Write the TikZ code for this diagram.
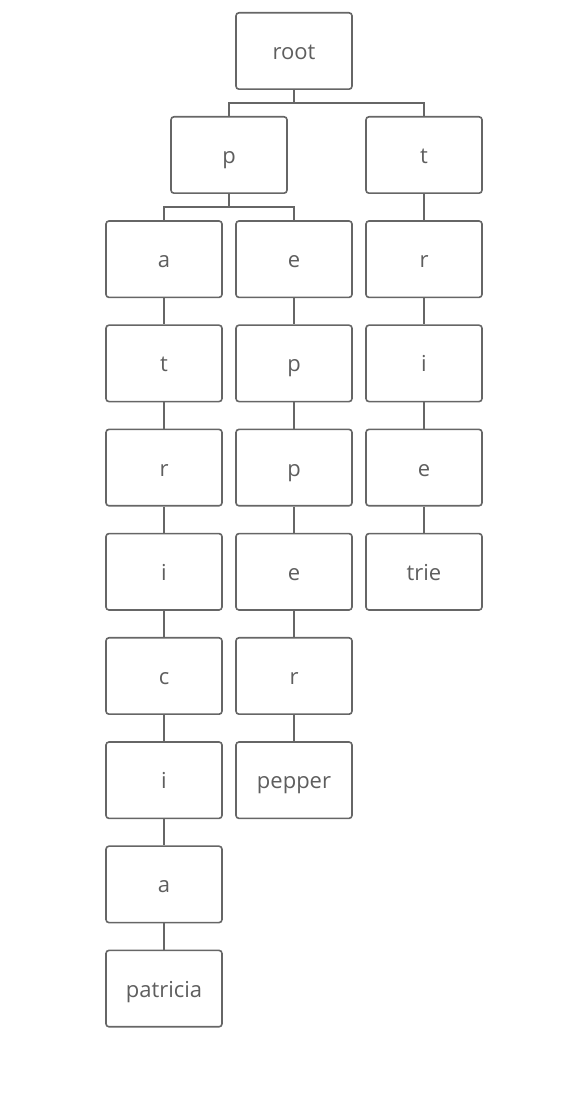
\documentclass[tikz,border=0pt]{standalone}
\usepackage{fontspec}
\setmainfont{Open Sans}
\usetikzlibrary{positioning}
\definecolor{boxline}{HTML}{666666}
\definecolor{boxtext}{HTML}{5E5E5E}
\tikzset{
  trienode/.style={draw=boxline, line width=1.6pt, rounded corners=3pt,
    minimum width=116pt, minimum height=76.4pt, inner sep=0pt,
    text height=22pt, text depth=5pt,
    text=boxtext, font=\fontsize{22}{26}\selectfont},
  trieedge/.style={draw=boxline, line width=1.6pt},
}
\begin{document}
\begin{tikzpicture}[x=1pt,y=1pt, node distance=26.2pt and 12pt]
  \useasboundingbox (0,0) rectangle (573,1094);

  % top of the trie
  \node[trienode] (root) at (294,1043) {root};
  \node[trienode] (p) at (229,939) {p};
  \node[trienode] (t) at (424,939) {t};
  \draw[trieedge] (root.south) -- ++(0,-13pt) -| (p.north);
  \draw[trieedge] (root.south) -- ++(0,-13pt) -| (t.north);

  % branch under p
  \node[trienode, below=of p, xshift=-65pt] (pa1) {a};
  \node[trienode, below=of p, xshift=65pt] (pe1) {e};
  \draw[trieedge] (p.south) -- ++(0,-13pt) -| (pa1.north);
  \draw[trieedge] (p.south) -- ++(0,-13pt) -| (pe1.north);

  % patricia
  \foreach \lbl [count=\i from 2] in {t,r,i,c,i,a,patricia} {
    \pgfmathtruncatemacro\prev{\i-1}
    \node[trienode, below=of pa\prev] (pa\i) {\lbl};
    \draw[trieedge] (pa\prev) -- (pa\i);
  }

  % pepper
  \foreach \lbl [count=\i from 2] in {p,p,e,r,pepper} {
    \pgfmathtruncatemacro\prev{\i-1}
    \node[trienode, below=of pe\prev] (pe\i) {\lbl};
    \draw[trieedge] (pe\prev) -- (pe\i);
  }

  % trie
  \node[trienode, below=of t] (tr1) {r};
  \draw[trieedge] (t) -- (tr1);
  \foreach \lbl [count=\i from 2] in {i,e,trie} {
    \pgfmathtruncatemacro\prev{\i-1}
    \node[trienode, below=of tr\prev] (tr\i) {\lbl};
    \draw[trieedge] (tr\prev) -- (tr\i);
  }
\end{tikzpicture}
\end{document}
